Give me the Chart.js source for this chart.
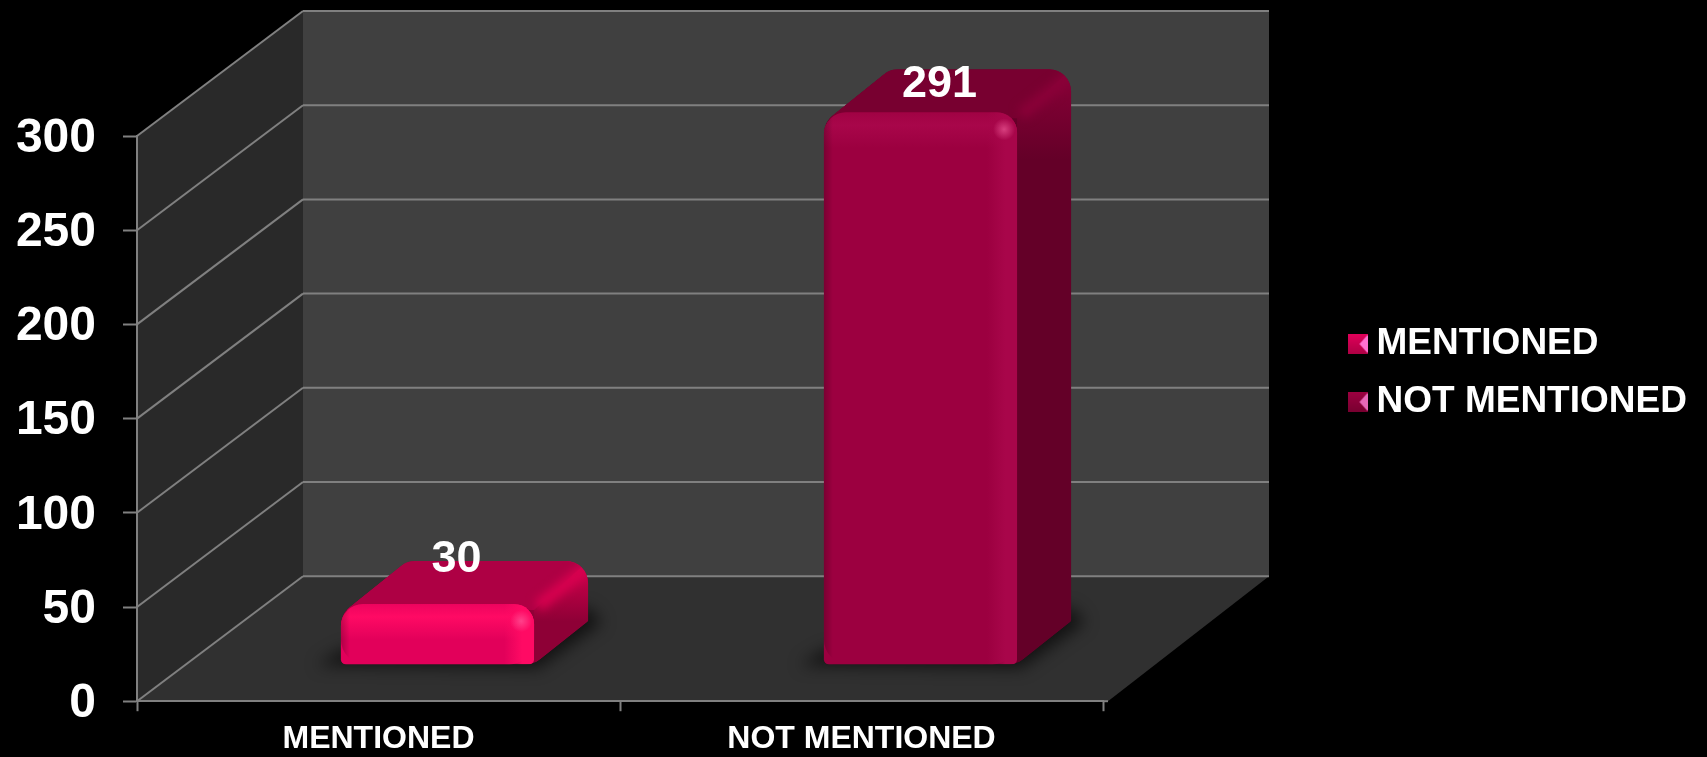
<!DOCTYPE html>
<html>
<head>
<meta charset="utf-8">
<title>Mentioned / not mentioned</title>
<script src="https://cdn.jsdelivr.net/npm/chart.js@4"></script>
<style>
  html, body { margin: 0; background: #000; }
  #wrap { width: 1707px; height: 757px; }
</style>
</head>
<body>
<div id="wrap"><canvas id="myChart"></canvas></div>
<script>
const categories = ["MENTIONED", "NOT MENTIONED"];
const counts = [30, 291];
const yTickStep = 50;
const yMax = 300;

const frontColors = ["#E2005A", "#9C0040"];
const glowColors = ["#FF0A64", "#A8064A"];
const topColors = ["#AE0044", "#780030"];
const sideColors = ["#8E0036", "#640028"];
const edgeColors = ["#D8004F", "#8A0038"];
const swatchLight = ["#FF70D0", "#E868B8"];
// label nudge above the value pixel
const labelLift = [85.4, 68];

const font = "'Liberation Sans', Arial, sans-serif";
const wallDepth = { x: 166, y: -125 };
const barOffset = { x: 59, y: -40.6 };
const barDepth = { x: 54, y: -43 };
const cornerR = 22;

function swatch(i) {
  const c = document.createElement("canvas");
  c.width = 20;
  c.height = 20;
  const g = c.getContext("2d");
  const grad = g.createLinearGradient(0, 0, 0, 20);
  grad.addColorStop(0, frontColors[i]);
  grad.addColorStop(1, topColors[i]);
  g.fillStyle = grad;
  g.fillRect(0, 0, 20, 20);
  g.fillStyle = swatchLight[i];
  g.beginPath();
  g.moveTo(20, 1);
  g.lineTo(20, 19);
  g.lineTo(12, 10);
  g.fill();
  return c;
}

// points are [x, y, cornerRadius]
function roundedPoly(g, pts) {
  const last = pts[pts.length - 1];
  const first = pts[0];
  g.beginPath();
  g.moveTo((last[0] + first[0]) / 2, (last[1] + first[1]) / 2);
  pts.forEach((p, i) => {
    const next = pts[(i + 1) % pts.length];
    g.arcTo(p[0], p[1], next[0], next[1], p[2]);
  });
  g.closePath();
}

function line(g, x0, y0, x1, y1) {
  g.beginPath();
  g.moveTo(x0, y0);
  g.lineTo(x1, y1);
  g.stroke();
}

const roomPlugin = {
  id: "room",
  beforeDraw(chart) {
    const g = chart.ctx;
    const { x: xs, y: ys } = chart.scales;
    const l = xs.left, r = xs.right, t = ys.top, b = ys.bottom;
    const dx = wallDepth.x, dy = wallDepth.y;
    g.save();
    g.fillStyle = "#000";
    g.fillRect(0, 0, chart.width, chart.height);
    g.fillStyle = "#292929";
    g.beginPath();
    g.moveTo(l, t);
    g.lineTo(l + dx, t + dy);
    g.lineTo(l + dx, b + dy);
    g.lineTo(l, b);
    g.fill();
    g.fillStyle = "#404040";
    g.fillRect(l + dx, t + dy, r - l, b - t);
    g.fillStyle = "#303030";
    g.beginPath();
    g.moveTo(l, b);
    g.lineTo(l + dx, b + dy);
    g.lineTo(r + dx, b + dy);
    g.lineTo(r + 5, b);
    g.fill();
    g.strokeStyle = "#808080";
    g.lineWidth = 2;
    ys.ticks.forEach((tick) => {
      const y = ys.getPixelForValue(tick.value);
      line(g, l, y, l + dx, y + dy);
      line(g, l + dx, y + dy, r + dx, y + dy);
    });
    line(g, r, b, r + 5, b);
    g.restore();
  },
  beforeDatasetDraw(chart, args) {
    const g = chart.ctx;
    const meta = chart.getDatasetMeta(args.index);
    g.save();
    g.translate(barOffset.x, barOffset.y);
    meta.data.forEach((el, i) => {
      const left = el.x - el.width / 2, right = el.x + el.width / 2;
      const top = el.y, base = el.base;
      const bx = barDepth.x, by = barDepth.y;

      // soft shadow on the floor
      g.save();
      g.filter = "blur(8px)";
      g.fillStyle = "rgba(0,0,0,0.62)";
      g.beginPath();
      g.moveTo(left - 24, base + 1);
      g.lineTo(right + 4, base + 4);
      g.lineTo(right + bx + 14, base + by + 1);
      g.lineTo(right + bx, base + by - 14);
      g.lineTo(left, base - 14);
      g.fill();
      g.restore();

      const outline = [
        [left, top + 10, cornerR],
        [left + bx + 12, top + by, cornerR],
        [right + bx, top + by, cornerR],
        [right + bx, base + by, 2],
        [right, base, cornerR],
        [left, base, 5],
      ];
      g.save();
      roundedPoly(g, outline);
      g.clip();
      g.fillStyle = sideColors[i];
      g.fill();
      const sg = g.createLinearGradient(0, top + by, 0, Math.min(top + by + 90, base + by));
      sg.addColorStop(0, edgeColors[i]);
      sg.addColorStop(1, sideColors[i]);
      g.fillStyle = sg;
      g.fillRect(right, top + by, bx + 2, base - top);
      g.fillStyle = topColors[i];
      g.beginPath();
      g.moveTo(left, top + 10);
      g.lineTo(left + bx + 12, top + by);
      g.lineTo(right + bx, top + by);
      g.lineTo(right, top + 6);
      g.lineTo(left, top + 6);
      g.fill();
      // lit ridge between top and side
      g.filter = "blur(5px)";
      g.strokeStyle = edgeColors[i];
      g.lineWidth = 12;
      line(g, right + 4, top + 2, right + bx + 4, top + by + 2);
      g.restore();
    });
  },
  afterDatasetDraw(chart, args) {
    const g = chart.ctx;
    const meta = chart.getDatasetMeta(args.index);
    meta.data.forEach((el, i) => {
      const left = el.x - el.width / 2, right = el.x + el.width / 2;
      const top = el.y, base = el.base;
      g.save();
      g.beginPath();
      g.roundRect(left, top, el.width, base - top, [cornerR, cornerR - 2, 5, cornerR + 3]);
      g.clip();
      const tg = g.createLinearGradient(0, top, 0, top + 36);
      tg.addColorStop(0, glowColors[i] + "60");
      tg.addColorStop(0.35, glowColors[i]);
      tg.addColorStop(1, glowColors[i] + "00");
      g.fillStyle = tg;
      g.fillRect(left, top, el.width, 36);
      const rg = g.createLinearGradient(right - 30, 0, right, 0);
      rg.addColorStop(0, glowColors[i] + "00");
      rg.addColorStop(0.6, glowColors[i]);
      rg.addColorStop(1, glowColors[i]);
      g.fillStyle = rg;
      g.fillRect(right - 30, top, 30, base - top);
      const lg = g.createLinearGradient(left, 0, left + 9, 0);
      lg.addColorStop(0, "rgba(0,0,0,0.22)");
      lg.addColorStop(1, "rgba(0,0,0,0)");
      g.fillStyle = lg;
      g.fillRect(left, top, 9, base - top);
      const glint = g.createRadialGradient(right - 13, top + 17, 0, right - 13, top + 17, 11);
      glint.addColorStop(0, "rgba(255,110,170,0.55)");
      glint.addColorStop(1, "rgba(255,110,170,0)");
      g.fillStyle = glint;
      g.fillRect(right - 25, top + 5, 24, 24);
      g.restore();
    });
    g.restore();
  },
  afterDatasetsDraw(chart) {
    const g = chart.ctx;
    const meta = chart.getDatasetMeta(0);
    const ys = chart.scales.y;
    g.save();
    g.font = "bold 45px " + font;
    g.fillStyle = "#fff";
    g.textAlign = "center";
    g.textBaseline = "middle";
    meta.data.forEach((el, i) => {
      g.fillText(String(counts[i]), el.x + barOffset.x + 19, ys.getPixelForValue(counts[i]) - labelLift[i]);
    });
    g.restore();
  },
  afterLayout(chart) {
    // legend sits out of the layout, to the right of the room
    const lg = chart.legend;
    lg.left = 1336;
    lg.right = 1707;
    lg.width = 371;
    lg.top = 304.5;
    lg.bottom = 475;
    lg.height = 170.5;
  },
};

document.addEventListener("DOMContentLoaded", () => {
  const ctx = document.getElementById("myChart").getContext("2d");
  const config = {
    type: "bar",
    data: {
      labels: categories,
      datasets: [
        {
          label: "Count",
          data: counts,
          base: -2,
          clip: false,
          backgroundColor: frontColors,
          borderRadius: { topLeft: cornerR, topRight: cornerR - 2, bottomLeft: 5, bottomRight: cornerR + 3 },
          borderSkipped: false,
          barPercentage: 0.4,
          categoryPercentage: 1,
        },
      ],
    },
    options: {
      animation: false,
      responsive: true,
      maintainAspectRatio: false,
      layout: { autoPadding: false, padding: { top: 136, right: 604, bottom: 0, left: 0 } },
      scales: {
        x: {
          afterFit: (s) => { s.height = 55; },
          border: { color: "#808080", width: 2 },
          grid: { display: true, drawOnChartArea: false, tickLength: 10, tickColor: "#808080", tickWidth: 2 },
          ticks: { color: "#fff", padding: 9, maxRotation: 0, font: { family: font, weight: "bold", size: 32 } },
        },
        y: {
          min: 0,
          max: yMax,
          afterFit: (s) => { s.width = 137; },
          border: { color: "#808080", width: 2 },
          grid: { display: true, drawOnChartArea: false, tickLength: 14, tickColor: "#808080", tickWidth: 2 },
          ticks: { stepSize: yTickStep, color: "#fff", padding: 27, labelOffset: 2.5, font: { family: font, weight: "bold", size: 48 } },
        },
      },
      plugins: {
        tooltip: { enabled: false },
        legend: {
          position: "chartArea",
          align: "start",
          labels: {
            usePointStyle: true,
            boxWidth: 1,
            padding: 21,
            color: "#fff",
            font: { family: font, weight: "bold", size: 37 },
            generateLabels: () =>
              categories.map((name, i) => ({
                text: name,
                fontColor: "#fff",
                pointStyle: swatch(i),
                hidden: false,
                datasetIndex: 0,
                index: i,
              })),
          },
        },
      },
    },
    plugins: [roomPlugin],
  };
  new Chart(ctx, config);
});
</script>
</body>
</html>
